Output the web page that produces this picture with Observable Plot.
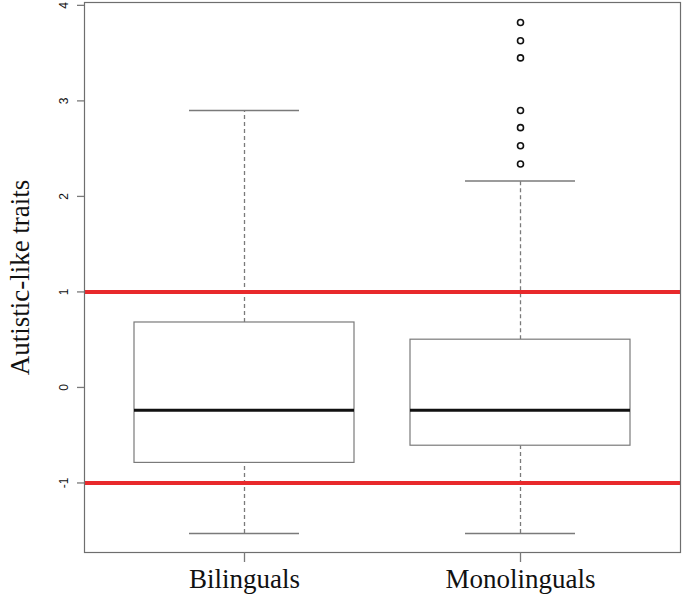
<!DOCTYPE html>
<html>
<head>
<meta charset="utf-8">
<script src="https://cdn.jsdelivr.net/npm/d3@7"></script>
<script src="https://cdn.jsdelivr.net/npm/@observablehq/plot@0.6"></script>
<style>
  html, body { margin: 0; padding: 0; background: #fff; }
  #chart { width: 685px; height: 595px; }
</style>
</head>
<body>
<div id="chart"></div>
<script>
// ---- data ----
const categories   = ["Bilinguals", "Monolinguals"];
const whiskerLow   = [-1.53, -1.53];
const q1           = [-0.79, -0.61];
const median       = [-0.24, -0.24];
const q3           = [0.68, 0.50];
const whiskerHigh  = [2.90, 2.16];
const outlierGroup = ["Monolinguals", "Monolinguals", "Monolinguals", "Monolinguals", "Monolinguals", "Monolinguals", "Monolinguals"];
const outlierValue = [3.82, 3.63, 3.45, 2.90, 2.72, 2.53, 2.34];
const referenceLines = [1, -1];
const yTicks = [-1, 0, 1, 2, 3, 4];
const yLabel = "Autistic-like traits";

const boxes = categories.map((c, i) => ({
  group: c, lo: whiskerLow[i], q1: q1[i], med: median[i], q3: q3[i], hi: whiskerHigh[i]
}));
const outliers = outlierValue.map((v, i) => ({group: outlierGroup[i], value: v}));

const grey = "#7a7a7a";

const chart = Plot.plot({
  width: 685,
  height: 595,
  marginTop: 2,
  marginBottom: 43,
  marginLeft: 84,
  marginRight: 5,
  style: {background: "#fff"},
  x: {type: "band", domain: categories, paddingInner: 0.202, paddingOuter: 0.179, axis: null},
  y: {domain: [-1.728, 4.03], axis: null},
  marks: [
    // whiskers (dashed)
    Plot.ruleX(boxes, {x: "group", y1: "q3", y2: "hi", stroke: grey, strokeWidth: 1.3, strokeDasharray: "4,3"}),
    Plot.ruleX(boxes, {x: "group", y1: "lo", y2: "q1", stroke: grey, strokeWidth: 1.3, strokeDasharray: "4,3"}),
    // whisker caps (half box width)
    Plot.tickY(boxes, {x: "group", y: "hi", stroke: grey, strokeWidth: 1.5, insetLeft: 55, insetRight: 55}),
    Plot.tickY(boxes, {x: "group", y: "lo", stroke: grey, strokeWidth: 1.5, insetLeft: 55, insetRight: 55}),
    // boxes
    Plot.barY(boxes, {x: "group", y1: "q1", y2: "q3", fill: "white", stroke: grey, strokeWidth: 1.2}),
    // medians
    Plot.tickY(boxes, {x: "group", y: "med", stroke: "#111", strokeWidth: 3}),
    // outliers
    Plot.dot(outliers, {x: "group", y: "value", r: 3, stroke: "#111", strokeWidth: 1.6, fill: "none"}),
    // red reference lines
    Plot.ruleY(referenceLines, {stroke: "#e8292b", strokeWidth: 4}),
    // frame
    Plot.frame({stroke: "#6e6e6e", strokeWidth: 1.2}),
    // axes
    Plot.axisY({ticks: yTicks, tickFormat: d => String(d), tickSize: 7, tickPadding: 10, tickRotate: -90, fontSize: 12, fontFamily: "Liberation Sans, Arial, sans-serif", stroke: grey, strokeWidth: 1.3, strokeOpacity: 1, color: "#111", label: null}),
    Plot.axisX({tickSize: 10, tickPadding: 6, fontSize: 27, fontFamily: "Liberation Serif, Times New Roman, serif", stroke: grey, strokeWidth: 1.3, strokeOpacity: 1, color: "#111", label: null}),
    // y label
    Plot.text([yLabel], {frameAnchor: "left", dx: -64, rotate: -90, textAnchor: "middle", fontSize: 27, fontFamily: "Liberation Serif, Times New Roman, serif", fill: "#111"})
  ]
});
document.getElementById("chart").appendChild(chart);
</script>
</body>
</html>
